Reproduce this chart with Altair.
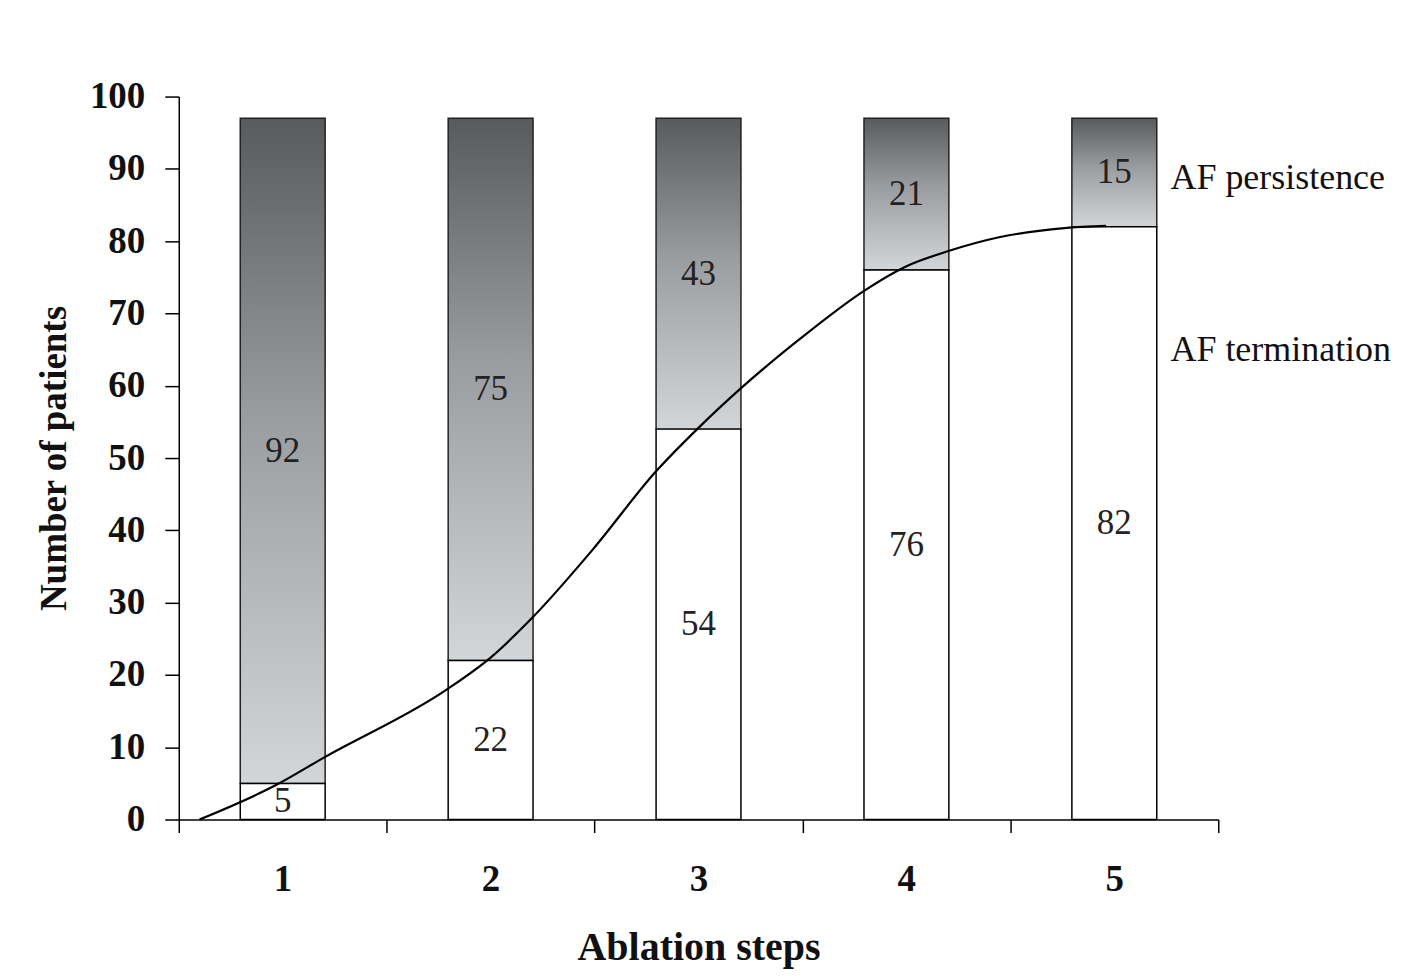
import altair as alt
import pandas as pd

# ---- data ----
steps = [1, 2, 3, 4, 5]
termination = [5, 22, 54, 76, 82]
persistence = [92, 75, 43, 21, 15]

# sigmoid-like curve (x in ablation-step units)
curve_x = [0.6, 0.97, 1.2, 1.79, 2.0, 2.2, 2.49, 2.8, 2.99, 3.21, 3.48, 3.8, 3.99, 4.21, 4.44, 4.76, 4.96]
curve_y = [0, 4.8, 8.6, 18.0, 22.4, 27.9, 37.3, 48.3, 53.9, 59.8, 66.3, 73.2, 76.4, 78.7, 80.5, 81.8, 82.1]

x_ticks = [0.5, 1.5, 2.5, 3.5, 4.5, 5.5]
y_ticks = [0, 10, 20, 30, 40, 50, 60, 70, 80, 90, 100]

ann_text = ["AF persistence", "AF termination"]
ann_x = [5.27, 5.27]
ann_y = [88.7, 65]

# ---- tables ----
term_df = pd.DataFrame({"step": steps, "lo": [0] * 5, "hi": termination, "n": termination})
pers_df = pd.DataFrame({
    "step": steps,
    "lo": termination,
    "hi": [t + p for t, p in zip(termination, persistence)],
    "n": persistence,
})
curve_df = pd.DataFrame({"x": curve_x, "y": curve_y})
ann_df = pd.DataFrame({"x": ann_x, "y": ann_y, "label": ann_text})

SERIF = "Liberation Serif"

xscale = alt.Scale(domain=[0.5, 5.5], nice=False, zero=False, padding=0)
yscale = alt.Scale(domain=[0, 100], nice=False)

xaxis = alt.Axis(
    values=x_ticks,
    labelExpr="datum.value < 5 ? format(datum.value + 0.5, 'd') : ''",
    labelOffset=104,
    labelFlush=False,
    labelOverlap=False,
    grid=False,
    tickSize=13,
    tickWidth=1.5,
    tickColor="black",
    domainColor="black",
    domainWidth=1.5,
    labelFont=SERIF,
    labelFontSize=37,
    labelFontWeight="bold",
    labelColor="#111",
    labelPadding=29,
    title="Ablation steps",
    titleFont=SERIF,
    titleFontSize=40,
    titleFontWeight="bold",
    titleColor="#111",
    titlePadding=30,
)
yaxis = alt.Axis(
    values=y_ticks,
    grid=False,
    tickSize=14,
    tickWidth=1.5,
    tickColor="black",
    domainColor="black",
    domainWidth=1.5,
    labelFont=SERIF,
    labelFontSize=37,
    labelFontWeight="bold",
    labelColor="#111",
    labelPadding=20,
    title="Number of patients",
    titleFont=SERIF,
    titleFontSize=37,
    titleFontWeight="bold",
    titleColor="#111",
    titlePadding=16,
)

gradient = alt.Gradient(
    gradient="linear",
    x1=0, x2=0, y1=0, y2=1,
    stops=[
        alt.GradientStop(color="#585b5e", offset=0),
        alt.GradientStop(color="#9a9da0", offset=0.45),
        alt.GradientStop(color="#d3d6d9", offset=1),
    ],
)

term_bars = alt.Chart(term_df).mark_bar(size=85, fill="white", stroke="black", strokeWidth=1.5).encode(
    x=alt.X("step:Q", scale=xscale, axis=xaxis),
    y=alt.Y("lo:Q", scale=yscale, axis=yaxis),
    y2="hi:Q",
)
pers_bars = alt.Chart(pers_df).mark_bar(size=85, fill=gradient, stroke="#222", strokeWidth=1.5).encode(
    x=alt.X("step:Q", scale=xscale),
    y=alt.Y("lo:Q", scale=yscale),
    y2="hi:Q",
)

curve = alt.Chart(curve_df).mark_line(color="black", strokeWidth=2.2, interpolate="monotone").encode(
    x=alt.X("x:Q", scale=xscale),
    y=alt.Y("y:Q", scale=yscale),
)

def seg_labels(df):
    return alt.Chart(df).transform_calculate(mid="(datum.lo + datum.hi) / 2").mark_text(
        font=SERIF, fontSize=35, color="#222", baseline="middle", align="center"
    ).encode(
        x=alt.X("step:Q", scale=xscale),
        y=alt.Y("mid:Q", scale=yscale),
        text="n:Q",
    )

ann = alt.Chart(ann_df).mark_text(
    font=SERIF, fontSize=36, color="#111", align="left", baseline="middle"
).encode(
    x=alt.X("x:Q", scale=xscale),
    y=alt.Y("y:Q", scale=yscale),
    text="label:N",
)

chart = alt.layer(
    pers_bars, term_bars, curve, seg_labels(term_df), seg_labels(pers_df), ann
).properties(
    width=1041,
    height=724,
    autosize=alt.AutoSizeParams(type="none"),
    padding={"left": 171, "top": 88, "right": 190, "bottom": 150},
    background="white",
).configure_view(stroke=None)

chart.save("out.html", embed_options={"renderer": "svg", "actions": False})
